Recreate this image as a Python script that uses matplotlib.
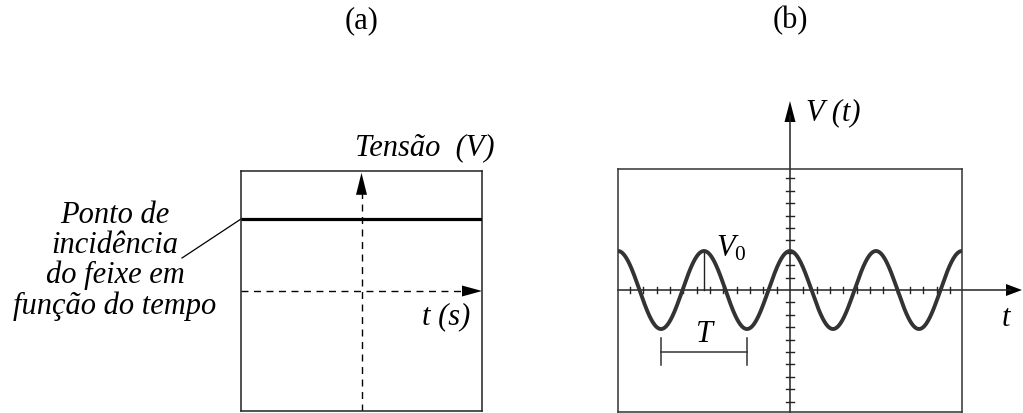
import numpy as np
import matplotlib
matplotlib.use("Agg")
import matplotlib.pyplot as plt
from matplotlib.patches import Polygon

plt.rcParams['font.family'] = ['Liberation Serif', 'DejaVu Serif']
plt.rcParams['mathtext.fontset'] = 'custom'
plt.rcParams['mathtext.it'] = 'Liberation Serif:italic'
plt.rcParams['mathtext.rm'] = 'Liberation Serif'

# ---------------- data ----------------
panel_labels = ["(a)", "(b)"]
# panel (a): constant beam position (DC voltage), normalized to screen half-height
dc_level = 0.6
label_a_y = "Tensão  (V)"
label_a_x = "t (s)"
beam_note = "Ponto de\nincidência\ndo feixe em\nfunção do tempo"
# panel (b): cosine signal
V0 = 1.0            # amplitude
T = 1.0             # period
screen_periods = 4  # periods visible on the screen
x_tick_step = 0.155 # screen graticule step along t (in units of T)
n_x_ticks = 12
y_tick_step = 0.318 # graticule step along V (in units of V0)
n_y_ticks = 9
label_b_y = "V (t)"
label_b_x = "t"

W, H = 1023, 413
fig = plt.figure(figsize=(W / 100, H / 100), dpi=100)
FS = 22


def px_axes(x0, y0, x1, y1):
    """axes whose box spans pixel region (x0,y0)-(x1,y1) (y from top)."""
    return fig.add_axes([x0 / W, 1 - y1 / H, (x1 - x0) / W, (y1 - y0) / H])


def head(ax, tip, direction, length, width, color='black'):
    # filled triangular arrow head, sizes given in data units
    tx, ty = tip
    dx, dy = direction
    bx, by = tx - dx * length, ty - dy * length
    px, py = -dy, dx
    pts = [(tx, ty), (bx + px * width / 2, by + py * width / 2),
           (bx - px * width / 2, by - py * width / 2)]
    ax.add_patch(Polygon(pts, closed=True, color=color, clip_on=False, lw=0))


tfont = dict(fontsize=FS, style='italic')

# ---------------- panel (a) ----------------
axa = px_axes(241, 171, 482, 411)
axa.set_xlim(-1, 1)
axa.set_ylim(-1, 1)
axa.set_xticks([])
axa.set_yticks([])
for s in axa.spines.values():
    s.set_linewidth(1.1)
    s.set_color('#222222')
# px per unit
ax_ppx = 241 / 2.0
ax_ppy = 240 / 2.0

axa.plot([-1, 1], [dc_level, dc_level], color='black', lw=2.3, solid_capstyle='butt', zorder=3)
# dashed axes
axa.plot([-1, 1 - 14 / ax_ppx], [0, 0], color='black', lw=1.0, dashes=(5, 4))
axa.plot([0, 0], [-1, 1 - 14 / ax_ppy], color='black', lw=1.0, dashes=(5, 4))
head(axa, (1, 0), (1, 0), 20 / ax_ppx, 11 / ax_ppy)
head(axa, (0, 0.985), (0, 1), 22 / ax_ppy, 11 / ax_ppx)

axa.text((355 - 361.5) / ax_ppx, (291 - 148) / ax_ppy, label_a_y, ha='left', va='center',
         clip_on=False, **tfont)
axa.text((422 - 361.5) / ax_ppx, (291 - 317) / ax_ppy, label_a_x, ha='left', va='center',
         clip_on=False, **tfont)
axa.text((115 - 361.5) / ax_ppx, (291 - 261) / ax_ppy, beam_note, ha='center', va='center',
         linespacing=1.03, clip_on=False, **tfont)
# leader line
axa.plot([(182 - 361.5) / ax_ppx, -1], [(291 - 258) / ax_ppy, dc_level], color='black',
         lw=0.9, clip_on=False)

# ---------------- panel (b) ----------------
axb = px_axes(618, 169, 962, 412)
half = screen_periods * T / 2
ppx = 344 / (screen_periods * T)
ppy = 39 / V0
axb.set_xlim(-half, half)
axb.set_ylim(-(412 - 290) / ppy, (290 - 169) / ppy)
axb.set_xticks([])
axb.set_yticks([])
for s in axb.spines.values():
    s.set_linewidth(1.1)
    s.set_color('#333333')

t = np.linspace(-half, half, 800)
v = V0 * np.cos(2 * np.pi * t / T)
axb.plot(t, v, color='#333333', lw=2.8, zorder=4)

# axes
x_tip = (1023 - 791) / ppx
y_tip = (290 - 101) / ppy
axb.plot([-half, x_tip - 12 / ppx], [0, 0], color='#222222', lw=1.1, clip_on=False)
axb.plot([0, 0], [axb.get_ylim()[0], y_tip - 15 / ppy], color='#222222', lw=1.1, clip_on=False)
head(axb, (x_tip, 0), (1, 0), 16 / ppx, 12 / ppy)
head(axb, (0, y_tip), (0, 1), 21 / ppy, 11 / ppx)

# graticule ticks
for k in range(-n_x_ticks, n_x_ticks + 1):
    if k == 0:
        continue
    xk = k * x_tick_step
    axb.plot([xk, xk], [-3 / ppy, 3 / ppy], color='#222222', lw=1.0)
for k in range(-n_y_ticks, n_y_ticks + 1):
    if k == 0:
        continue
    yk = k * y_tick_step
    axb.plot([-4 / ppx, 4 / ppx], [yk, yk], color='#222222', lw=1.0)

# V0 marker
axb.plot([-T, -T], [0, V0], color='#222222', lw=1.0)
axb.text(-T + 12 / ppx, V0 * 1.05, r"$\mathit{V}_{\mathit{0}}$", ha='left', va='center',
         fontsize=FS)
# T bracket
yb = -1.59 * V0
axb.plot([-1.5 * T, -0.5 * T], [yb, yb], color='#333333', lw=1.1)
for xe in (-1.5 * T, -0.5 * T):
    axb.plot([xe, xe], [yb - 0.33, yb + 0.35], color='#333333', lw=1.1)
axb.text(-1.0 * T, -1.15 * V0, "T", ha='center', va='center', **tfont)

axb.text(16 / ppx, (290 - 113) / ppy, label_b_y, ha='left', va='center', clip_on=False, **tfont)
axb.text((1007 - 791) / ppx, (290 - 318) / ppy, label_b_x, ha='center', va='center',
         clip_on=False, **tfont)

# panel labels
fig.text(362 / W, 1 - 21 / H, panel_labels[0], ha='center', va='center', fontsize=FS)
fig.text(790 / W, 1 - 21 / H, panel_labels[1], ha='center', va='center', fontsize=FS)

fig.savefig("out.png", dpi=100)
